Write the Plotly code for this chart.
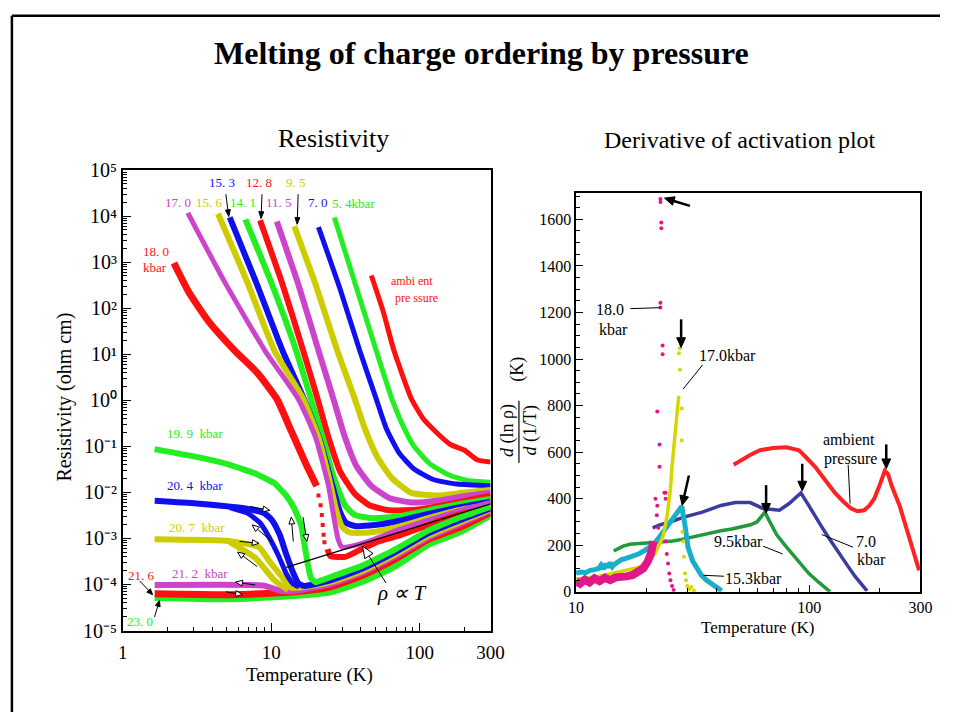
import numpy as np
import plotly.graph_objects as go

W, H = 954, 723
FONT = "Liberation Serif, Times New Roman, serif"

# ---------------- LEFT PANEL: resistivity (T in K, log10 of rho in ohm cm) ----------------
T_18_0 = [2.21, 2.78, 3.77, 5.67, 8.03, 10.9, 13.6, 17.1, 20.2]
L_18_0 = [2.98, 2.35, 1.72, 1.08, 0.60, 0.03, -0.66, -1.38, -1.86]
T_18_0_dots = [20.8, 21.5, 21.9, 22.2, 22.5, 22.8]
L_18_0_dots = [-2.07, -2.28, -2.49, -2.71, -2.92, -3.08]
T_18_0_b = [23.9, 25.0, 31.4, 39.4, 53.3, 72.2, 114, 179, 300]
L_18_0_b = [-3.23, -3.38, -3.40, -3.25, -3.06, -2.94, -2.71, -2.49, -2.33]

T_17_0 = [2.74, 4.87, 9.06, 15.2, 19.9, 24.3, 26.6, 28.2, 30.0, 36.5, 49.4, 72.2, 114, 179, 300]
L_17_0 = [4.07, 2.56, 1.08, 0.03, -0.81, -1.86, -2.60, -3.02, -3.19, -3.15, -3.02, -2.81, -2.60, -2.41, -2.22]

T_15_6 = [4.38, 6.90, 10.5, 16.4, 20.8, 24.3, 27.4, 30.0, 33.8, 45.8, 67.0, 114, 179, 300]
L_15_6 = [4.05, 2.56, 1.08, 0.03, -0.81, -1.65, -2.39, -2.75, -2.87, -2.87, -2.77, -2.56, -2.39, -2.26]

T_15_3 = [5.25, 7.91, 11.9, 16.6, 21.5, 25.8, 29.1, 31.9, 36.5, 49.4, 72.2, 114, 179, 300]
L_15_3 = [3.97, 2.56, 1.08, 0.03, -0.92, -1.86, -2.43, -2.66, -2.73, -2.71, -2.62, -2.47, -2.33, -2.20]

T_14_1 = [6.69, 10.1, 14.7, 18.5, 22.2, 26.2, 31.4, 36.5, 48.0, 72.2, 114, 179, 300]
L_14_1 = [3.93, 2.52, 1.08, 0.03, -0.81, -1.65, -2.28, -2.49, -2.56, -2.52, -2.39, -2.26, -2.14]

T_12_8 = [8.40, 11.9, 16.4, 20.5, 24.3, 29.1, 36.5, 45.8, 62.1, 97.7, 154, 300]
L_12_8 = [3.91, 2.52, 1.08, 0.03, -0.81, -1.55, -2.03, -2.28, -2.39, -2.37, -2.26, -2.07]

T_11_5 = [10.9, 15.2, 20.8, 26.2, 31.4, 37.6, 47.2, 62.1, 87.9, 132, 193, 300]
L_11_5 = [3.88, 2.52, 1.08, 0.03, -0.81, -1.44, -1.86, -2.12, -2.22, -2.18, -2.09, -2.01]

T_9_5 = [14.3, 20.2, 27.8, 36.5, 42.5, 51.7, 64.9, 87.9, 132, 193, 300]
L_9_5 = [3.78, 2.45, 1.08, 0.03, -0.60, -1.23, -1.69, -2.01, -2.07, -2.01, -1.95]

T_7_0 = [20.8, 29.1, 39.4, 50.9, 59.3, 72.2, 90.6, 123, 179, 300]
L_7_0 = [3.76, 2.41, 1.08, 0.03, -0.60, -1.13, -1.48, -1.72, -1.82, -1.86]

T_5_4 = [26.6, 36.5, 50.9, 64.9, 75.5, 90.6, 117, 154, 208, 300]
L_5_4 = [3.97, 2.56, 1.08, 0.03, -0.49, -0.98, -1.38, -1.61, -1.74, -1.78]

T_amb = [47.2, 56.7, 67.0, 87.9, 105, 126, 161, 199, 243, 300]
L_amb = [2.71, 1.93, 1.08, 0.03, -0.39, -0.66, -0.96, -1.08, -1.29, -1.34]

T_19_9 = [1.64, 3.14, 5.25, 7.79, 10.5, 12.6, 14.3, 15.9, 16.6, 17.6, 18.5, 19.9, 25.0, 41.2, 69.0, 114, 188, 300]
L_19_9 = [-1.06, -1.23, -1.40, -1.59, -1.80, -2.07, -2.35, -2.71, -3.06, -3.55, -3.86, -3.95, -3.84, -3.59, -3.23, -2.83, -2.54, -2.31]

T_20_4 = [1.64, 3.14, 6.69, 8.93, 10.1, 11.4, 12.6, 14.1, 15.2, 16.6, 25.0, 41.2, 69.0, 114, 188, 300]
L_20_4 = [-2.18, -2.24, -2.35, -2.45, -2.60, -2.92, -3.34, -3.76, -3.97, -4.03, -3.91, -3.65, -3.29, -2.89, -2.60, -2.35]
T_20_4_b = [5.25, 6.90, 8.40, 9.77, 11.2, 12.6, 14.1, 15.4]
L_20_4_b = [-2.33, -2.45, -2.66, -3.00, -3.38, -3.76, -3.99, -4.05]

T_20_7 = [1.64, 5.25, 8.28, 9.63, 11.7, 13.6, 25.0, 41.2, 69.0, 114, 188, 300]
L_20_7 = [-3.02, -3.06, -3.19, -3.48, -3.82, -4.07, -3.95, -3.70, -3.34, -2.94, -2.64, -2.37]
T_20_7_b = [5.25, 7.79, 10.5, 13.0]
L_20_7_b = [-3.08, -3.42, -3.91, -4.12]

T_21_2 = [1.64, 7.11, 9.06, 11.7, 14.3, 25.0, 41.2, 69.0, 114, 188, 300]
L_21_2 = [-4.01, -4.01, -4.03, -4.14, -4.14, -3.99, -3.74, -3.38, -2.98, -2.68, -2.39]

T_21_6 = [1.64, 5.25, 11.2, 18.5, 25.0, 41.2, 69.0, 114, 188, 300]
L_21_6 = [-4.20, -4.22, -4.18, -4.12, -4.05, -3.80, -3.44, -3.02, -2.75, -2.43]

T_23_0 = [1.64, 5.25, 14.3, 25.0, 41.2, 69.0, 114, 188, 300]
L_23_0 = [-4.28, -4.31, -4.24, -4.16, -3.93, -3.59, -3.13, -2.85, -2.49]

T_lin = [12.6, 300]          # rho proportional to T guide line
L_lin = [-3.63, -2.25]

left_xticks = [1, 10, 100, 300]
left_xticktext = ["1", "10", "100", "300"]
left_yticks = [1e-5, 1e-4, 1e-3, 1e-2, 1e-1, 1e0, 1e1, 1e2, 1e3, 1e4, 1e5]
left_yticktext = ["10⁻⁵", "10⁻⁴", "10⁻³", "10⁻²", "10⁻¹", "10⁰", "10¹", "10²", "10³", "10⁴", "10⁵"]

# ---------------- RIGHT PANEL: d(ln rho)/d(1/T) in K vs T in K ----------------
T_r18_band = [10.0, 10.4, 10.9, 11.4, 12.0, 12.6, 13.3, 14.0, 14.8, 15.6, 16.5, 17.5, 18.5, 19.4, 20.3, 20.9, 21.5]
V_r18_band = [45, 35, 52, 40, 58, 46, 60, 50, 62, 60, 66, 72, 85, 100, 130, 162, 217]
T_r18_pts = [21.9, 22.2, 22.5, 22.3, 22.8, 23.9, 22.8, 22.3, 23.5, 23.5, 23.0, 23.0, 23.2, 23.2, 23.0, 23.0,
             24.2, 24.2, 24.2, 24.5, 24.8, 25.1, 25.4, 25.8, 26.2]
V_r18_pts = [400, 329, 275, 370, 537, 425, 633, 775, 1020, 1058, 1221, 1242, 1562, 1587, 1675, 1687,
             425, 400, 217, 162, 121, 79, 50, 25, 8]

T_r17_line = [10.0, 11.0, 12.0, 13.0, 14.5, 15.6, 17.0, 18.5, 19.8, 20.9, 21.8, 22.5, 23.2, 23.7, 24.2, 24.6,
              25.0, 25.4, 25.8, 26.2, 26.6, 27.0, 27.3, 27.6]
V_r17_line = [55, 58, 63, 70, 80, 88, 95, 104, 120, 142, 165, 192, 220, 246, 290, 329,
              385, 442, 540, 621, 700, 758, 800, 842]
T_r17_pts = [27.9, 27.6, 27.9, 28.4, 28.4, 28.6, 28.8, 29.0, 29.3, 29.6, 30.0, 30.6, 31.2, 32.0]
V_r17_pts = [954, 1025, 1046, 787, 650, 258, 217, 150, 79, 50, 25, 12, 20, 5]

T_r15 = [10.0, 10.5, 11.0, 11.5, 12.0, 12.5, 12.8, 13.1, 13.4, 13.7, 14.0, 14.3, 14.6, 15.0, 15.6, 16.5,
         17.5, 18.5, 19.5, 20.5, 21.5, 22.5, 23.7, 24.8, 26.0, 27.2, 28.4, 29.3, 30.2, 31.6, 33.2, 34.5,
         36.2, 38.0, 39.8, 42.1]
V_r15 = [80, 85, 82, 92, 95, 100, 115, 98, 120, 105, 125, 108, 118, 128, 137, 145,
         152, 162, 175, 188, 204, 228, 258, 285, 317, 340, 367, 287, 192, 133, 92, 70,
         50, 35, 25, 4]

T_r9_5 = [14.5, 15.2, 15.9, 17.0, 19.4, 21.5, 23.5, 26.0, 28.4, 31.5, 34.8, 38.0, 41.8, 46.5, 52.2, 56.0,
          59.7, 62.0, 64.6, 67.0, 72.4, 78.0, 84.6, 91.5, 99.5, 110, 123]
V_r9_5 = [175, 188, 196, 204, 208, 210, 212, 218, 225, 235, 246, 255, 262, 270, 279, 288,
          300, 318, 342, 310, 246, 205, 162, 120, 79, 40, 0]

T_r7_0 = [21.3, 23.0, 25.4, 29.0, 34.8, 41.8, 48.2, 55.8, 63.3, 69.0, 74.5, 82.0, 88.0, 92.1, 99.5, 106,
          113, 121, 129, 137, 147, 157, 167, 177]
V_r7_0 = [275, 288, 300, 321, 342, 371, 383, 383, 358, 352, 350, 379, 410, 425, 371, 329,
          280, 233, 190, 150, 108, 67, 33, 4]

T_ramb = [47.4, 51.0, 55.8, 61.5, 70.0, 79.8, 90.4, 96.6, 106, 117, 129, 140, 151, 161, 172, 181,
          190, 200, 211, 218, 226, 244, 256, 268, 282, 296]
V_ramb = [546, 565, 588, 608, 618, 621, 608, 579, 537, 480, 425, 388, 358, 346, 350, 370,
          400, 455, 520, 505, 454, 371, 300, 233, 160, 92]

right_xticks = [10, 100, 300]
right_xticktext = ["10", "100", "300"]
right_yticks = [0, 200, 400, 600, 800, 1000, 1200, 1400, 1600]

# colours
RED, GREEN, BLUE, YEL, MAG = "#ff1010", "#22ee22", "#1010ee", "#cccc00", "#cc44cc"
R_PINK, R_YEL, R_CYAN, R_GRN, R_NAVY, R_RED = "#e0168a", "#d6d600", "#1aafc8", "#22993a", "#3c3ca0", "#ff2222"


def P(x, y):
    """pixel position -> paper position"""
    return x / W, 1 - y / H


fig = go.Figure()


def left_line(T, L, color, width, smooth=0.5):
    fig.add_trace(go.Scatter(x=T, y=10 ** np.array(L), mode="lines", xaxis="x", yaxis="y",
                             line=dict(color=color, width=width, shape="spline", smoothing=smooth),
                             hoverinfo="skip", showlegend=False))


left_line(T_amb, L_amb, RED, 5)
left_line(T_5_4, L_5_4, GREEN, 5)
left_line(T_7_0, L_7_0, BLUE, 5)
left_line(T_9_5, L_9_5, YEL, 6)
left_line(T_11_5, L_11_5, MAG, 6)
left_line(T_12_8, L_12_8, RED, 6)
left_line(T_14_1, L_14_1, GREEN, 6)
left_line(T_15_3, L_15_3, BLUE, 6)
left_line(T_15_6, L_15_6, YEL, 6)
left_line(T_17_0, L_17_0, MAG, 5)
left_line(T_18_0, L_18_0, RED, 7)
fig.add_trace(go.Scatter(x=T_18_0_dots, y=10 ** np.array(L_18_0_dots), mode="markers", xaxis="x", yaxis="y",
                         marker=dict(color=RED, size=4, symbol="square"), hoverinfo="skip", showlegend=False))
left_line(T_18_0_b, L_18_0_b, RED, 6)
left_line(T_23_0, L_23_0, GREEN, 7)
left_line(T_21_6, L_21_6, RED, 7)
left_line(T_21_2, L_21_2, MAG, 6)
left_line(T_20_7_b, L_20_7_b, YEL, 6)
left_line(T_20_7, L_20_7, YEL, 6)
left_line(T_20_4_b, L_20_4_b, BLUE, 5)
left_line(T_20_4, L_20_4, BLUE, 6)
left_line(T_19_9, L_19_9, GREEN, 6, 0.3)
fig.add_trace(go.Scatter(x=T_lin, y=10 ** np.array(L_lin), mode="lines", xaxis="x", yaxis="y",
                         line=dict(color="black", width=1.3), hoverinfo="skip", showlegend=False))


def right_line(T, V, color, width, mode="lines", size=4):
    fig.add_trace(go.Scatter(x=T, y=V, mode=mode, xaxis="x2", yaxis="y2",
                             line=dict(color=color, width=width),
                             marker=dict(color=color, size=size),
                             hoverinfo="skip", showlegend=False))


right_line(T_ramb, V_ramb, R_RED, 4)
right_line(T_r7_0, V_r7_0, R_NAVY, 3.5)
right_line(T_r9_5, V_r9_5, R_GRN, 3.5)
right_line(T_r15, V_r15, R_CYAN, 5)
right_line(T_r17_line, V_r17_line, R_YEL, 3.5)
right_line(T_r17_pts, V_r17_pts, R_YEL, 1, mode="markers", size=4)
right_line(T_r18_band, V_r18_band, R_PINK, 8)
right_line(T_r18_pts, V_r18_pts, R_PINK, 1, mode="markers", size=4)

# ---------------- annotations (texts) ----------------
ann = []


def text(x, y, s, size, color="black", angle=0, bold=False, italic=False):
    px, py = P(x, y)
    if bold:
        s = "<b>%s</b>" % s
    if italic:
        s = "<i>%s</i>" % s
    ann.append(dict(x=px, y=py, xref="paper", yref="paper", text=s, showarrow=False,
                    xanchor="center", yanchor="middle", textangle=angle,
                    font=dict(family=FONT, size=size, color=color)))


text(485, 43, "Melting of charge ordering by pressure", 32, bold=True)
text(333, 131, "Resistivity", 26)
text(749, 133, "Derivative of activation plot", 24)
text(309, 685, "Temperature (K)", 19)
text(768, 636, "Temperature (K)", 17)
text(58, 398, "Resistivity (ohm cm)", 20, angle=-90)
text(512, 433, "<i>d</i> (ln ρ)", 18, angle=-90)
text(535, 433, "<i>d</i> (1/T)", 18, angle=-90)
text(522, 369, "(K)", 18, angle=-90)

# left labels
LS = 13
text(219, 177, "15. 3", LS, BLUE)
text(257, 177, "12. 8", LS, RED)
text(295, 177, "9. 5", LS, YEL)
text(174, 198, "17. 0", LS, MAG)
text(206, 198, "15. 6", LS, YEL)
text(241, 198, "14. 1", LS, GREEN)
text(277, 198, "11. 5", LS, MAG)
text(317, 198, "7. 0", LS, BLUE)
text(354, 199, "5. 4kbar", LS, GREEN)
text(151, 248, "18. 0", LS, RED)
text(150, 265, "kbar", LS, RED)
text(414, 278, "ambi ent", 12, RED)
text(418, 296, "pre ssure", 12, RED)
text(191, 436, "19. 9  kbar", LS, GREEN)
text(191, 489, "20. 4  kbar", LS, BLUE)
text(193, 533, "20. 7  kbar", LS, YEL)
text(197, 580, "21. 2  kbar", LS, MAG)
text(137, 582, "21. 6", LS, RED)
text(135, 630, "23. 0", LS, GREEN)
text(403, 600, "ρ ∝ T", 21, italic=True)

# right labels
RS = 16
text(616, 308, "18.0", RS)
text(620, 328, "kbar", RS)
text(736, 355, "17.0kbar", RS)
text(861, 442, "ambient", RS)
text(862, 462, "pressure", RS)
text(878, 547, "7.0", RS)
text(884, 566, "kbar", RS)
text(748, 547, "9.5kbar", RS)
text(763, 585, "15.3kbar", RS)

# ---------------- shapes: leader lines, arrows, frame ----------------
shapes = []


def seg(p0, p1, width=1.0, color="black"):
    x0, y0 = P(*p0)
    x1, y1 = P(*p1)
    shapes.append(dict(type="line", xref="paper", yref="paper", x0=x0, y0=y0, x1=x1, y1=y1,
                       line=dict(color=color, width=width)))


def arrow(tail, tip, width=1.0, hl=6.0, hw=5.0, hollow=False):
    tx, ty = tail
    px_, py_ = tip
    d = np.hypot(px_ - tx, py_ - ty)
    ux, uy = (px_ - tx) / d, (py_ - ty) / d
    bx, by = px_ - ux * hl, py_ - uy * hl
    nx, ny = -uy, ux
    seg(tail, (bx, by), width)
    c1 = P(bx + nx * hw / 2, by + ny * hw / 2)
    c2 = P(bx - nx * hw / 2, by - ny * hw / 2)
    c0 = P(px_, py_)
    path = "M %.5f,%.5f L %.5f,%.5f L %.5f,%.5f Z" % (c0[0], c0[1], c1[0], c1[1], c2[0], c2[1])
    shapes.append(dict(type="path", xref="paper", yref="paper", path=path,
                       fillcolor="white" if hollow else "black",
                       line=dict(color="black", width=1)))


seg((637, 307), (667, 306))
seg((711, 365), (691, 390))
seg((860, 468), (862, 508))
seg((865, 553), (833, 540))
seg((773, 552), (793, 560))
seg((733, 583), (712, 582))
seg((523, 402), (523, 466), 1.2)       # fraction bar of the right y label
seg((4, 5), (954, 5), 2.5)              # slide frame
seg((4, 5), (4, 723), 2.5)

# left arrows
arrow((223, 189), (226, 212), 1.0, 7, 5)
arrow((260, 189), (259, 214), 1.0, 7, 5)
arrow((297, 189), (296, 220), 1.0, 7, 5)
arrow((248, 511), (268, 515), 1.0, 7, 6, hollow=True)
arrow((270, 547), (250, 530), 1.0, 7, 6, hollow=True)
arrow((292, 547), (290, 522), 1.0, 7, 6, hollow=True)
arrow((302, 522), (306, 547), 1.0, 7, 6, hollow=True)
arrow((237, 547), (257, 549), 1.0, 7, 6, hollow=True)
arrow((255, 573), (235, 558), 1.0, 7, 6, hollow=True)
arrow((253, 592), (233, 589), 1.0, 7, 6, hollow=True)
arrow((223, 599), (240, 602), 1.0, 7, 6, hollow=True)
arrow((135, 588), (148, 602), 1.0, 6, 5)
arrow((150, 625), (155, 608), 1.0, 6, 5)
arrow((387, 590), (363, 552), 1.0, 12, 10, hollow=True)

# right arrows
arrow((698, 201), (672, 193), 2.5, 10, 9)
arrow((689, 318), (689, 347), 2.5, 10, 9)
arrow((697, 479), (690, 510), 2.5, 10, 9)
arrow((776, 489), (776, 518), 2.5, 10, 9)
arrow((813, 467), (813, 495), 2.5, 10, 9)
arrow((899, 447), (899, 472), 2.5, 10, 9)

left_xminor = [m * 10 ** k for k in range(0, 3) for m in range(2, 10) if m * 10 ** k < 300]
left_yminor = [m * 10.0 ** k for k in range(-5, 5) for m in range(2, 10)]
right_xminor = [20, 30, 40, 50, 60, 70, 80, 90, 200]

axis_common = dict(showline=True, linecolor="black", linewidth=1.5, mirror=True, ticks="inside",
                   tickcolor="black", showgrid=False, zeroline=False,
                   tickfont=dict(family=FONT, color="black"))

fig.update_layout(
    width=W, height=H, autosize=False, margin=dict(l=0, r=0, t=0, b=0),
    paper_bgcolor="white", plot_bgcolor="white", showlegend=False,
    annotations=ann, shapes=shapes,
    xaxis=dict(axis_common, domain=[117.5 / W, 494 / W], anchor="y", type="log",
               range=[0, np.log10(300)], tickmode="array", tickvals=left_xticks,
               ticktext=left_xticktext, ticklen=8, tickfont=dict(family=FONT, size=19, color="black"),
               ticklabelstandoff=4,
               minor=dict(tickmode="array", tickvals=left_xminor, ticks="inside", ticklen=4,
                          tickcolor="black", showgrid=False)),
    yaxis=dict(axis_common, domain=[1 - 639 / H, 1 - 164 / H], anchor="x", type="log",
               range=[-5, 5], tickmode="array", tickvals=left_yticks, ticktext=left_yticktext,
               ticklen=8, tickfont=dict(family=FONT, size=20, color="black"),
               minor=dict(tickmode="array", tickvals=left_yminor, ticks="inside", ticklen=4,
                          tickcolor="black", showgrid=False)),
    xaxis2=dict(axis_common, domain=[581.5 / W, 934 / W], anchor="y2", type="log",
                range=[1, np.log10(300)], tickmode="array", tickvals=right_xticks,
                ticktext=right_xticktext, ticklen=7, tickfont=dict(family=FONT, size=16, color="black"),
                minor=dict(tickmode="array", tickvals=right_xminor, ticks="inside", ticklen=4,
                           tickcolor="black", showgrid=False)),
    yaxis2=dict(axis_common, domain=[1 - 599 / H, 1 - 188 / H], anchor="x2",
                range=[0, 1712], tickmode="array", tickvals=right_yticks, ticklen=7,
                tickfont=dict(family=FONT, size=16, color="black"),
                minor=dict(dtick=50, ticks="inside", ticklen=4, tickcolor="black", showgrid=False)),
)

fig.write_html("out.html")
